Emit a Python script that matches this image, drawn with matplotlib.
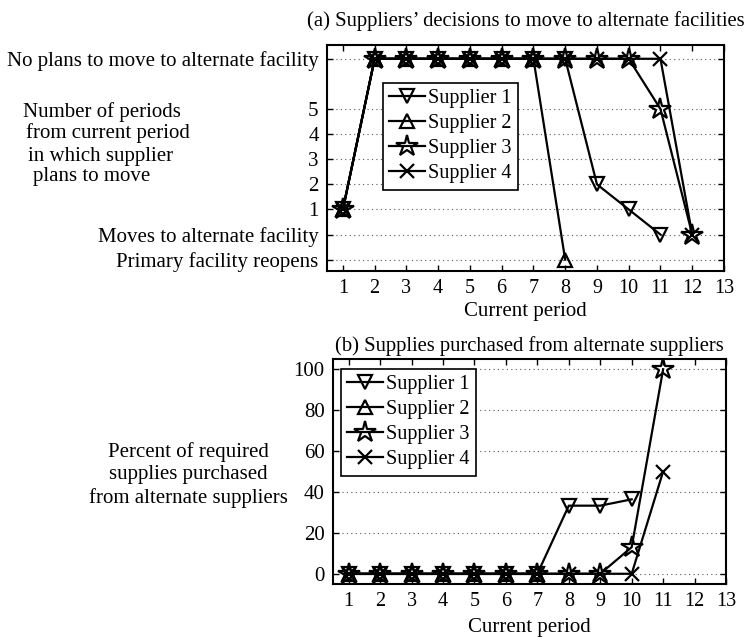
import matplotlib
matplotlib.use('Agg')
import matplotlib.pyplot as plt

plt.rcParams['font.family'] = ['Liberation Serif', 'DejaVu Serif']
plt.rcParams['font.size'] = 15
plt.rcParams['legend.fontsize'] = 14.5

labels = ['Supplier 1', 'Supplier 2', 'Supplier 3', 'Supplier 4']
markers = ['v', '^', '*', 'x']
msizes = [10, 10, 16, 10]

# (a) decisions: 7 = no plans, 1..5 = periods until move, 0 = moves, -1 = primary reopens
dec_x = [list(range(1, 12)), list(range(1, 9)), list(range(1, 13)), list(range(1, 13))]
dec_y = [
    [1, 7, 7, 7, 7, 7, 7, 7, 2, 1, 0],
    [1, 7, 7, 7, 7, 7, 7, -1],
    [1, 7, 7, 7, 7, 7, 7, 7, 7, 7, 5, 0],
    [1, 7, 7, 7, 7, 7, 7, 7, 7, 7, 7, 0],
]
dec_ticks = [-1, 0, 1, 2, 3, 4, 5, 7]
dec_ticklabels = ['Primary facility reopens', 'Moves to alternate facility',
                  '1', '2', '3', '4', '5', 'No plans to move to alternate facility']

# (b) percent purchased from alternate suppliers
pur_x = [list(range(1, 11)), list(range(1, 8)), list(range(1, 12)), list(range(1, 12))]
pur_y = [
    [0, 0, 0, 0, 0, 0, 0, 33.3, 33.3, 36.4],
    [0, 0, 0, 0, 0, 0, 0],
    [0, 0, 0, 0, 0, 0, 0, 0, 0, 13, 100],
    [0, 0, 0, 0, 0, 0, 0, 0, 0, 0, 50],
]
periods = list(range(1, 14))

fig = plt.figure(figsize=(7.49, 6.37), dpi=100)
ax1 = fig.add_axes([0.4366, 0.5746, 0.530, 0.3548])
ax2 = fig.add_axes([0.4446, 0.0832, 0.5247, 0.3532])


def style_axes(ax, lpad):
    ax.set_xlim(0.5, 13)
    ax.set_xticks(periods)
    ax.tick_params(direction='in', top=True, right=True, length=4, width=1, pad=6)
    ax.tick_params(axis='x', labelsize=14.5)
    ax.yaxis.grid(True, linestyle=(0, (1, 3)), color='0.35', linewidth=0.8)
    ax.set_axisbelow(True)
    for s in ax.spines.values():
        s.set_linewidth(1.5)
    ax.set_xlabel('Current period', labelpad=lpad)


def add_legend(ax, anchor):
    leg = ax.legend(loc='upper left', bbox_to_anchor=anchor, fancybox=False,
                    edgecolor='k', handlelength=1.8, handletextpad=0.15,
                    borderpad=0.3, labelspacing=0.3, borderaxespad=0, framealpha=1)
    leg.get_frame().set_linewidth(1.2)


for x, y, m, ms, lab in zip(dec_x, dec_y, markers, msizes, labels):
    ax1.plot(x, y, marker=m, ms=ms, mfc='none', mec='k', mew=1.6,
             color='k', lw=1.6, label=lab)
ax1.set_ylim(-1.45, 7.55)
ax1.set_yticks(dec_ticks)
ax1.set_yticklabels(dec_ticklabels)
style_axes(ax1, 3)
t1 = ax1.set_title('(a) Suppliers\u2019 decisions to move to alternate facilities', pad=14)
add_legend(ax1, (0.141, 0.832))

for x, y, m, ms, lab in zip(pur_x, pur_y, markers, msizes, labels):
    ax2.plot(x, y, marker=m, ms=ms, mfc='none', mec='k', mew=1.6,
             color='k', lw=1.6, label=lab)
ax2.set_ylim(-5, 105)
ax2.set_yticks(range(0, 101, 20))
style_axes(ax2, 5)
t2 = ax2.set_title('(b) Supplies purchased from alternate suppliers', pad=6)
add_legend(ax2, (0.02, 0.956))

# y labels written as free text, the way the original lays them out
lines_a = ['Number of periods', 'from current period', 'in which supplier', 'plans to move']
starts_a = [23, 26, 28, 33]
rows_a = [112, 133, 156, 177]
for t, xs, ys in zip(lines_a, starts_a, rows_a):
    fig.text(xs / 749, 1 - ys / 637, t, ha='left', va='center')

fig.text(188 / 749, 1 - 475 / 637,
         'Percent of required\nsupplies purchased\nfrom alternate suppliers',
         ha='center', va='center', linespacing=1.25)

# shrink the titles so they span about as wide as in the original
fig.canvas.draw()
r = fig.canvas.get_renderer()
for t, w in [(t1, 440), (t2, 390)]:
    cur = t.get_window_extent(r).width
    t.set_fontsize(t.get_fontsize() * w / cur)

fig.savefig('out.png', dpi=100)
